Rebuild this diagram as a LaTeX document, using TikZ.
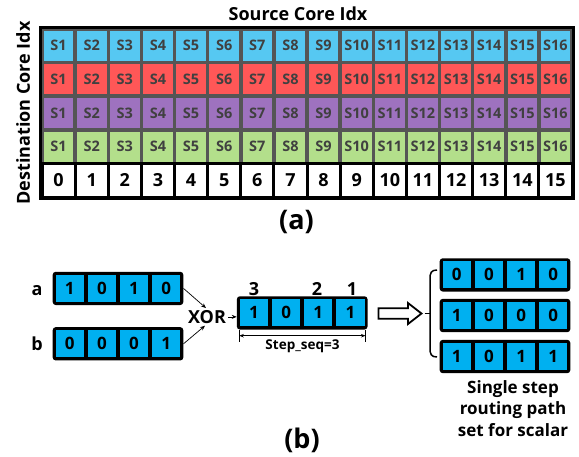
\documentclass[tikz,border=0pt]{standalone}
\usepackage{fontspec}
\setmainfont{Open Sans}
\usetikzlibrary{arrows.meta}
\definecolor{cblue}{HTML}{56C8F2}
\definecolor{cred}{HTML}{FF5757}
\definecolor{cpurple}{HTML}{9E72BF}
\definecolor{cgreen}{HTML}{B3DF8B}
\definecolor{gridgray}{HTML}{555555}
\definecolor{celltext}{HTML}{404040}
\definecolor{bitblue}{HTML}{00B0F0}
\newcommand\bitrow[4]{%
  \node[arrbg] (#1) at (#2,#3) {};
  \foreach \b [count=\i] in {#4} {
    \node[bitcell] (#1-\i) at ({#2+(\i-2.5)*32.2},#3) {\b};
  }%
}
\begin{document}
\begin{tikzpicture}[x=1pt,y=-1pt,
  cell/.style={draw=gridgray, line width=3.5pt, minimum width=33.125pt, minimum height=33.6pt,
    inner sep=0pt, text=celltext, font=\fontsize{14.5}{14.5}\selectfont\bfseries},
  numcell/.style={draw=black, fill=white, line width=3pt, minimum width=33.125pt, minimum height=33.6pt,
    inner sep=0pt, font=\fontsize{18}{18}\selectfont\bfseries},
  arrbg/.style={fill=black, rounded corners=3pt, minimum width=130.6pt, minimum height=33.3pt, inner sep=0pt},
  bitcell/.style={fill=bitblue, minimum width=28.3pt, minimum height=27pt, inner sep=0pt,
    font=\fontsize{17}{17}\selectfont\bfseries},
  lbl/.style={font=\fontsize{18}{18}\selectfont\bfseries, inner sep=0pt},
  arr/.style={-{Stealth[length=5pt,width=4pt]}, line width=0.7pt},
  dim/.style={{Stealth[length=4.5pt,width=3.5pt]}-{Stealth[length=4.5pt,width=3.5pt]}, line width=0.7pt}
]
\useasboundingbox (0,0) rectangle (579,456);

% ---------- (a) table ----------
\node[lbl, anchor=base] (title) at (298,20) {Source Core Idx};
\node[lbl, anchor=base, rotate=90] (ylab) at (30,113) {Destination Core Idx};

\foreach \r/\col in {1/cblue,2/cred,3/cpurple,4/cgreen} {
  \foreach \c in {1,...,16} {
    \node[cell, fill=\col] (s\r-\c) at ({42+(\c-0.5)*33.125},{29+(\r-0.5)*33.6}) {S\c};
  }
}
\foreach \c in {1,...,16} {
  \pgfmathtruncatemacro\n{\c-1}
  \node[numcell] (n\c) at ({42+(\c-0.5)*33.125},{29+4.5*33.6}) {\n};
}
\draw[line width=3pt] (s1-1.north west) rectangle (n16.south east);

\node[font=\fontsize{27}{27}\selectfont\bfseries, inner sep=0pt] (capa) at (296.5,222) {(a)};

% ---------- (b) ----------
\node[lbl, anchor=base] (la) at (37,295.5) {a};
\node[lbl, anchor=base] (lb) at (37,350) {b};

\bitrow{A}{118}{288.4}{1,0,1,0}
\bitrow{B}{118}{343.8}{0,0,0,1}
\bitrow{R}{302.2}{312.9}{1,0,1,1}
\bitrow{P1}{505}{274.9}{0,0,1,0}
\bitrow{P2}{505}{315.5}{1,0,0,0}
\bitrow{P3}{505}{356.5}{1,0,1,1}

\node[lbl, anchor=base, inner sep=2pt] (xor) at (207,323.3) {XOR};
\draw[arr] (A.east) -- ([xshift=-1pt]xor.north);
\draw[arr] (B.east) -- ([xshift=-2pt]xor.south);
\draw[arr] (xor.east) -- (xor.east -| R.west);

\node[lbl, anchor=base] (t3) at (254,295) {3};
\node[lbl, anchor=base] (t2) at (317,295) {2};
\node[lbl, anchor=base] (t1) at (352,295) {1};

\coordinate (d1) at (239.3,335.7);
\coordinate (d2) at (365.5,335.7);
\coordinate (d1t) at (239.3,329.5);
\coordinate (d1b) at (239.3,341.7);
\coordinate (d2t) at (365.5,329.5);
\coordinate (d2b) at (365.5,341.7);
\draw[dim] (d1) -- (d2);
\draw[line width=0.7pt] (d1t) -- (d1b);
\draw[line width=0.7pt] (d2t) -- (d2b);
\node[font=\fontsize{13.5}{13.5}\selectfont\bfseries, inner sep=0pt] (step) at (302.5,346.5) {Step\_seq=3};

% hollow arrow
\draw[line width=1.8pt, line join=miter, fill=white]
  (378.5,308.3) -- (408,308.3) -- (408,303) -- (421.5,313.5) -- (408,324) -- (408,318.7) -- (378.5,318.7) -- cycle;

% brace
\draw[line width=1.5pt]
  (437,270) .. controls (431,270) and (430,273) .. (430,279) -- (430,348)
  .. controls (430,354) and (431,357) .. (437,357);
\draw[line width=1.5pt] (424.5,313.5) -- (430,313.5);

\node[font=\fontsize{17}{21.5}\selectfont\bfseries, align=center, inner sep=0pt] (cap) at (513,408.5)
  {Single step\\routing path\\set for scalar};

\node[font=\fontsize{27}{27}\selectfont\bfseries, inner sep=0pt] (capb) at (302,440) {(b)};
\end{tikzpicture}
\end{document}
